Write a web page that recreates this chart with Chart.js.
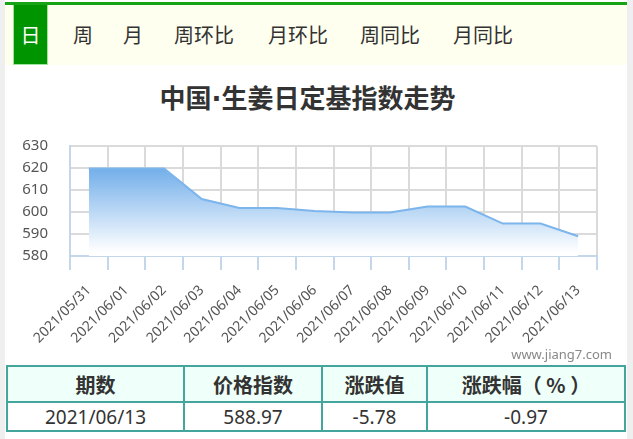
<!DOCTYPE html>
<html>
<head>
<meta charset="utf-8">
<script src="https://cdn.jsdelivr.net/npm/chart.js@4.4.0/dist/chart.umd.min.js"></script>
<style>
  html,body{margin:0;padding:0;background:#fff;}
  body{width:633px;height:439px;position:relative;overflow:hidden;font-family:"Noto Sans CJK SC","Noto Sans",sans-serif;}
  .lstrip{position:absolute;left:0;top:0;width:5px;height:439px;background:#efefef;}
  .rstrip{position:absolute;left:627px;top:0;width:6px;height:439px;background:#efefef;}
  .topline{position:absolute;left:5px;top:2px;width:622px;height:3px;background:#16a316;}
  .tabbar{position:absolute;left:5px;top:5px;width:622px;height:60px;background:#fffff0;}
  .tab{position:absolute;top:5px;height:60px;line-height:60px;font-size:20px;color:#333;}
  .tab.active{left:13px;width:35px;background:#009400;color:#fff;text-align:center;border:1px solid #9ee39e;border-top:none;box-sizing:border-box;}
  .title{position:absolute;left:-9px;width:633px;top:79px;text-align:center;font-size:26px;line-height:36px;font-weight:bold;color:#333;}
  .title .dot{font-family:"DejaVu Sans",sans-serif;}
  #c{position:absolute;left:0;top:115px;}
  .wm{position:absolute;right:21px;top:345px;font-size:13px;color:#888;font-family:"Noto Sans",sans-serif;}
  table{position:absolute;left:6px;top:365px;width:620px;border-collapse:collapse;}
  td,th{border:2px solid #44a59c;text-align:center;color:#333;padding:0;}
  th{background:#effff9;font-size:20px;font-weight:bold;height:34px;}
  td{font-size:19px;height:27px;font-family:"Noto Sans","Noto Sans CJK SC",sans-serif;}
</style>
</head>
<body>
<div class="lstrip"></div><div class="rstrip"></div>
<div class="tabbar"></div>
<div class="topline"></div>
<div class="tab active">日</div>
<div class="tab" style="left:73px">周</div>
<div class="tab" style="left:123px">月</div>
<div class="tab" style="left:174px">周环比</div>
<div class="tab" style="left:268px">月环比</div>
<div class="tab" style="left:360px">周同比</div>
<div class="tab" style="left:453px">月同比</div>
<div class="title">中国<span class="dot">·</span>生姜日定基指数走势</div>
<canvas id="c" width="633" height="235"></canvas>
<div class="wm">www.jiang7.com</div>
<table>
  <tr><th style="width:175px">期数</th><th style="width:136px">价格指数</th><th style="width:103px">涨跌值</th><th>涨跌幅（ % ）</th></tr>
  <tr><td>2021/06/13</td><td>588.97</td><td>-5.78</td><td>-0.97</td></tr>
</table>
<script>
const categories = ["2021/05/31","2021/06/01","2021/06/02","2021/06/03","2021/06/04","2021/06/05","2021/06/06","2021/06/07","2021/06/08","2021/06/09","2021/06/10","2021/06/11","2021/06/12","2021/06/13"];
const indexValues = [619.8,619.8,619.8,605.9,601.8,601.8,600.5,599.8,599.8,602.5,602.5,594.75,594.75,588.97];
const yTicks = [580,590,600,610,620,630];

const ctx = document.getElementById('c').getContext('2d');
new Chart(ctx, {
  type: 'line',
  data: {
    labels: categories,
    datasets: [{
      data: indexValues,
      borderColor: '#7cb5ec',
      borderWidth: 2,
      pointRadius: 0,
      tension: 0,
      fill: 'start',
      backgroundColor: (c) => {
        const a = c.chart.chartArea;
        if (!a) return 'rgba(124,181,236,0.8)';
        const g = c.chart.ctx.createLinearGradient(0, a.top + 22, 0, a.bottom - 4);
        g.addColorStop(0, 'rgba(114,174,234,1)');
        g.addColorStop(1, 'rgba(255,255,255,1)');
        return g;
      }
    }]
  },
  options: {
    responsive: false,
    animation: false,
    layout: { padding: { left: 0, right: 36, top: 11, bottom: 0 } },
    plugins: { legend: { display: false }, tooltip: { enabled: false } },
    scales: {
      x: {
        offset: true,
        grid: { offset: true, color: '#dadada', lineWidth: 2, tickLength: 14, tickColor: '#c4d6ea', drawOnChartArea: true },
        border: { color: '#c4d6ea', width: 2 },
        ticks: { autoSkip: false, minRotation: 45, maxRotation: 45, padding: 12, color: '#555', font: { family: 'Noto Sans', size: 14 } },
        afterFit: (s) => { s.height = 94; }
      },
      y: {
        min: 580, max: 630,
        afterBuildTicks: (s) => { s.ticks = yTicks.map(v => ({ value: v })); },
        grid: { color: '#dadada', lineWidth: 2, drawTicks: false },
        border: { color: '#c4d6ea', width: 2 },
        ticks: { autoSkip: false, stepSize: 10, padding: 22, color: '#555', font: { family: 'Noto Sans', size: 15 } },
        afterFit: (s) => { s.width = 70; }
      }
    }
  }
});
</script>
</body>
</html>
